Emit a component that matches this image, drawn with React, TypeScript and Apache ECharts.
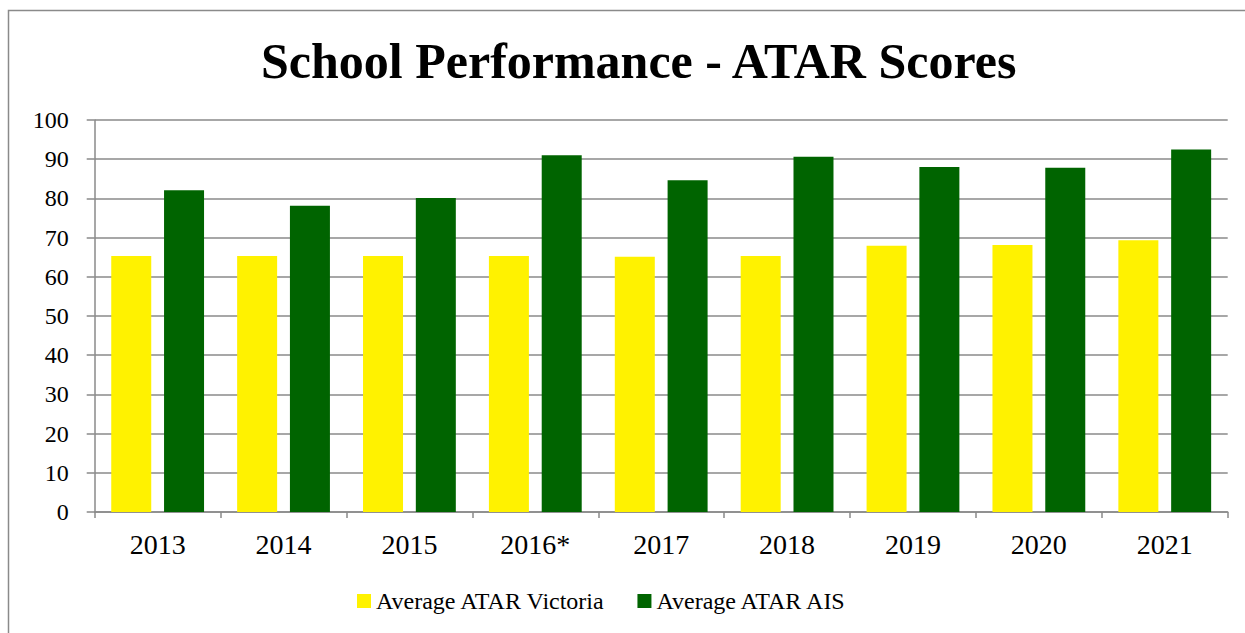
import React, { useEffect, useRef } from "react";
import * as echarts from "echarts";

const categories = ["2013", "2014", "2015", "2016*", "2017", "2018", "2019", "2020", "2021"];
const victoria = [65.3, 65.3, 65.3, 65.3, 65.1, 65.3, 67.9, 68.1, 69.3];
const ais = [82.1, 78.1, 80.1, 91.0, 84.6, 90.6, 88.0, 87.8, 92.5];
const seriesNames = ["Average ATAR Victoria", "Average ATAR AIS"];
const titleText = "School Performance - ATAR Scores";

const FONT = "'Liberation Serif', 'DejaVu Serif', serif";

export default function App() {
  const ref = useRef<HTMLDivElement>(null);
  useEffect(() => {
    if (!ref.current) return;
    const chart = echarts.init(ref.current, undefined, { renderer: "svg" });
    chart.setOption({
      animation: false,
      backgroundColor: "#ffffff",
      title: {
        text: titleText,
        left: 256,
        top: 31,
        textStyle: { fontFamily: FONT, fontWeight: "bold", fontSize: 50, color: "#000" },
      },
      graphic: [
        {
          type: "rect",
          shape: { x: 8.5, y: 10.5, width: 1260, height: 700 },
          style: { fill: "none", stroke: "#8a8a8a", lineWidth: 1.5 },
          silent: true,
        },
      ],
      legend: {
        left: 352,
        top: 584,
        itemWidth: 14,
        itemHeight: 14,
        itemGap: 32,
        icon: "rect",
        textStyle: { fontFamily: FONT, fontSize: 24, color: "#000" },
        data: seriesNames,
      },
      grid: { left: 94.7, right: 17.3, top: 120, bottom: 121, containLabel: false },
      xAxis: {
        type: "category",
        data: categories,
        axisLine: { lineStyle: { color: "#8a8a8a", width: 1.5 } },
        axisTick: { show: true, length: 6, lineStyle: { color: "#8a8a8a", width: 1.5 } },
        axisLabel: { fontFamily: FONT, fontSize: 28, color: "#000", margin: 18 },
      },
      yAxis: {
        type: "value",
        min: 0,
        max: 100,
        interval: 10,
        axisLine: { show: true, lineStyle: { color: "#8a8a8a", width: 1.5 } },
        axisTick: { show: true, length: 8, lineStyle: { color: "#8a8a8a", width: 1.5 } },
        axisLabel: { fontFamily: FONT, fontSize: 24, color: "#000", margin: 26 },
        splitLine: { lineStyle: { color: "#8a8a8a", width: 1.5 } },
      },
      series: [
        {
          name: seriesNames[0],
          type: "bar",
          data: victoria,
          barWidth: 40,
          barGap: "32%",
          itemStyle: { color: "#FFF200" },
        },
        {
          name: seriesNames[1],
          type: "bar",
          data: ais,
          barWidth: 40,
          itemStyle: { color: "#006400" },
        },
      ],
    });
    return () => chart.dispose();
  }, []);
  return (
    <div
      ref={ref}
      style={{ position: "fixed", left: 0, top: 0, width: 1245, height: 633 }}
    />
  );
}
